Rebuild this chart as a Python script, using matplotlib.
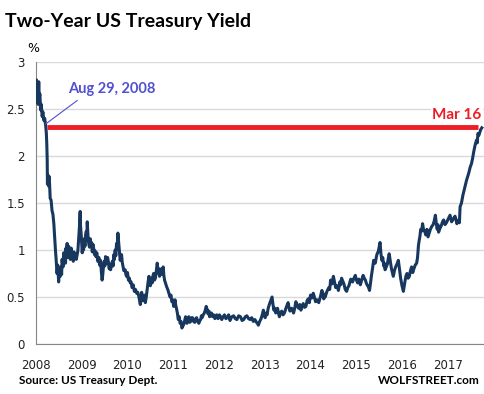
#!/usr/bin/env python3
"""Two-year US Treasury yield, redrawn from the wolfstreet chart."""

import matplotlib
matplotlib.use('Agg')
import matplotlib.pyplot as plt

# Yield path: x in "label years" (2008 = left edge), y in %.
years = [
    2008.00, 2008.01, 2008.02, 2008.03, 2008.045, 2008.06, 2008.07, 2008.085, 2008.10, 2008.115,
    2008.135, 2008.15, 2008.17, 2008.19, 2008.21, 2008.225, 2008.235, 2008.245, 2008.25, 2008.26,
    2008.275, 2008.29, 2008.31, 2008.33, 2008.35, 2008.37, 2008.39, 2008.41, 2008.425, 2008.44,
    2008.46, 2008.475, 2008.495, 2008.51, 2008.53, 2008.545, 2008.56, 2008.57, 2008.59, 2008.605,
    2008.62, 2008.63, 2008.645, 2008.655, 2008.67, 2008.68, 2008.70, 2008.715, 2008.725, 2008.74,
    2008.75, 2008.77, 2008.785, 2008.80, 2008.815, 2008.83, 2008.845, 2008.86, 2008.88, 2008.90,
    2008.915, 2008.93, 2008.95, 2008.965, 2008.97, 2008.99, 2009.01, 2009.025, 2009.04, 2009.055,
    2009.07, 2009.085, 2009.10, 2009.11, 2009.12, 2009.14, 2009.155, 2009.17, 2009.185, 2009.20,
    2009.215, 2009.23, 2009.245, 2009.26, 2009.28, 2009.295, 2009.31, 2009.33, 2009.35, 2009.375,
    2009.39, 2009.41, 2009.43, 2009.445, 2009.46, 2009.47, 2009.49, 2009.505, 2009.52, 2009.535,
    2009.55, 2009.565, 2009.58, 2009.60, 2009.615, 2009.63, 2009.65, 2009.67, 2009.685, 2009.70,
    2009.715, 2009.73, 2009.745, 2009.76, 2009.775, 2009.79, 2009.80, 2009.81, 2009.825, 2009.84,
    2009.855, 2009.87, 2009.885, 2009.90, 2009.92, 2009.95, 2009.965, 2009.98, 2010.00, 2010.02,
    2010.04, 2010.06, 2010.08, 2010.10, 2010.125, 2010.15, 2010.175, 2010.20, 2010.225, 2010.25,
    2010.265, 2010.28, 2010.295, 2010.31, 2010.33, 2010.35, 2010.37, 2010.39, 2010.41, 2010.43,
    2010.45, 2010.47, 2010.485, 2010.50, 2010.52, 2010.54, 2010.555, 2010.57, 2010.59, 2010.61,
    2010.63, 2010.65, 2010.665, 2010.68, 2010.69, 2010.70, 2010.72, 2010.74, 2010.76, 2010.78,
    2010.795, 2010.81, 2010.83, 2010.855, 2010.88, 2010.905, 2010.93, 2010.95, 2010.97, 2010.99,
    2011.01, 2011.025, 2011.04, 2011.055, 2011.07, 2011.09, 2011.11, 2011.13, 2011.15, 2011.17,
    2011.19, 2011.21, 2011.23, 2011.25, 2011.27, 2011.285, 2011.30, 2011.32, 2011.34, 2011.36,
    2011.38, 2011.40, 2011.42, 2011.445, 2011.47, 2011.49, 2011.51, 2011.535, 2011.56, 2011.58,
    2011.60, 2011.615, 2011.63, 2011.655, 2011.68, 2011.70, 2011.72, 2011.74, 2011.76, 2011.78,
    2011.795, 2011.81, 2011.835, 2011.86, 2011.885, 2011.91, 2011.93, 2011.95, 2011.98, 2012.01,
    2012.035, 2012.06, 2012.09, 2012.12, 2012.15, 2012.18, 2012.21, 2012.24, 2012.28, 2012.32,
    2012.355, 2012.39, 2012.43, 2012.47, 2012.505, 2012.54, 2012.575, 2012.61, 2012.645, 2012.68,
    2012.715, 2012.75, 2012.785, 2012.82, 2012.84, 2012.86, 2012.89, 2012.92, 2012.945, 2012.97,
    2012.99, 2013.01, 2013.03, 2013.05, 2013.075, 2013.10, 2013.13, 2013.16, 2013.18, 2013.20,
    2013.22, 2013.24, 2013.26, 2013.28, 2013.30, 2013.32, 2013.345, 2013.37, 2013.40, 2013.43,
    2013.47, 2013.51, 2013.53, 2013.55, 2013.59, 2013.63, 2013.655, 2013.68, 2013.71, 2013.74,
    2013.765, 2013.79, 2013.815, 2013.84, 2013.87, 2013.90, 2013.925, 2013.95, 2013.975, 2014.00,
    2014.03, 2014.06, 2014.085, 2014.11, 2014.145, 2014.18, 2014.215, 2014.25, 2014.27, 2014.29,
    2014.305, 2014.32, 2014.36, 2014.40, 2014.42, 2014.44, 2014.47, 2014.50, 2014.525, 2014.55,
    2014.58, 2014.61, 2014.625, 2014.64, 2014.66, 2014.68, 2014.705, 2014.73, 2014.76, 2014.79,
    2014.815, 2014.84, 2014.88, 2014.92, 2014.95, 2014.98, 2015.005, 2015.03, 2015.06, 2015.09,
    2015.12, 2015.15, 2015.175, 2015.20, 2015.225, 2015.25, 2015.27, 2015.29, 2015.31, 2015.33,
    2015.355, 2015.38, 2015.415, 2015.45, 2015.485, 2015.52, 2015.54, 2015.56, 2015.58, 2015.60,
    2015.615, 2015.63, 2015.655, 2015.68, 2015.70, 2015.72, 2015.745, 2015.77, 2015.79, 2015.81,
    2015.835, 2015.86, 2015.89, 2015.92, 2015.945, 2015.97, 2016.00, 2016.03, 2016.05, 2016.07,
    2016.09, 2016.11, 2016.135, 2016.16, 2016.185, 2016.21, 2016.235, 2016.26, 2016.29, 2016.32,
    2016.34, 2016.36, 2016.375, 2016.39, 2016.41, 2016.43, 2016.45, 2016.47, 2016.495, 2016.52,
    2016.545, 2016.57, 2016.595, 2016.62, 2016.65, 2016.68, 2016.705, 2016.73, 2016.75, 2016.77,
    2016.785, 2016.80, 2016.83, 2016.86, 2016.885, 2016.91, 2016.94, 2016.97, 2017.01, 2017.05,
    2017.085, 2017.12, 2017.16, 2017.20, 2017.22, 2017.24, 2017.255, 2017.27, 2017.30, 2017.33,
    2017.37, 2017.41, 2017.435, 2017.46, 2017.49, 2017.52, 2017.545, 2017.57, 2017.60, 2017.63,
    2017.645, 2017.66, 2017.68, 2017.70, 2017.72, 2017.745,
]
yields = [
    2.72, 2.81, 2.60, 2.70, 2.55, 2.79, 2.62, 2.66, 2.49, 2.55,
    2.42, 2.47, 2.38, 2.40, 2.33, 2.25, 2.14, 1.96, 1.70, 1.80,
    1.68, 1.78, 1.55, 1.53, 1.42, 1.38, 1.28, 1.12, 1.00, 0.90,
    0.75, 0.84, 0.66, 0.80, 0.72, 0.82, 0.74, 0.90, 0.82, 0.97,
    0.88, 0.93, 0.86, 1.02, 0.95, 1.07, 0.92, 1.04, 0.96, 1.00,
    0.90, 1.02, 0.93, 0.96, 0.88, 0.98, 0.91, 0.96, 0.90, 0.95,
    0.99, 1.10, 1.25, 1.41, 1.28, 1.15, 0.97, 1.06, 1.00, 1.12,
    1.04, 1.16, 1.20, 1.10, 1.30, 1.12, 1.06, 1.03, 1.12, 1.04,
    1.08, 0.98, 1.06, 1.02, 0.95, 0.99, 0.93, 0.97, 0.88, 0.92,
    0.84, 0.89, 0.76, 0.68, 0.74, 0.80, 0.88, 0.83, 0.93, 0.87,
    0.86, 0.92, 0.88, 0.80, 0.85, 0.79, 0.84, 0.88, 0.83, 0.95,
    0.90, 1.00, 0.94, 1.07, 1.01, 1.18, 1.12, 1.05, 0.98, 0.89,
    0.93, 0.95, 0.87, 0.83, 0.78, 0.79, 0.74, 0.72, 0.76, 0.68,
    0.70, 0.65, 0.66, 0.60, 0.63, 0.56, 0.58, 0.54, 0.55, 0.50,
    0.46, 0.42, 0.50, 0.55, 0.46, 0.48, 0.52, 0.44, 0.50, 0.58,
    0.66, 0.72, 0.64, 0.62, 0.70, 0.65, 0.72, 0.75, 0.68, 0.70,
    0.78, 0.86, 0.78, 0.75, 0.80, 0.72, 0.76, 0.80, 0.74, 0.82,
    0.73, 0.68, 0.65, 0.61, 0.58, 0.54, 0.50, 0.52, 0.45, 0.47,
    0.40, 0.44, 0.47, 0.41, 0.38, 0.33, 0.26, 0.29, 0.22, 0.24,
    0.17, 0.19, 0.21, 0.25, 0.29, 0.24, 0.22, 0.27, 0.29, 0.23,
    0.24, 0.28, 0.28, 0.24, 0.23, 0.27, 0.28, 0.24, 0.22, 0.25,
    0.26, 0.30, 0.28, 0.31, 0.33, 0.36, 0.40, 0.37, 0.32, 0.35,
    0.29, 0.31, 0.33, 0.29, 0.31, 0.27, 0.28, 0.31, 0.27, 0.31,
    0.29, 0.26, 0.29, 0.31, 0.27, 0.28, 0.31, 0.25, 0.29, 0.30,
    0.27, 0.26, 0.30, 0.29, 0.25, 0.26, 0.29, 0.30, 0.27, 0.26,
    0.28, 0.24, 0.26, 0.23, 0.22, 0.20, 0.24, 0.27, 0.31, 0.36,
    0.30, 0.28, 0.33, 0.31, 0.38, 0.42, 0.46, 0.50, 0.42, 0.36,
    0.38, 0.33, 0.36, 0.38, 0.33, 0.29, 0.33, 0.35, 0.31, 0.33,
    0.39, 0.44, 0.39, 0.35, 0.38, 0.33, 0.38, 0.45, 0.41, 0.38,
    0.42, 0.36, 0.40, 0.43, 0.39, 0.40, 0.46, 0.48, 0.44, 0.52,
    0.49, 0.54, 0.50, 0.45, 0.47, 0.44, 0.50, 0.57, 0.52, 0.48,
    0.53, 0.50, 0.56, 0.60, 0.58, 0.68, 0.64, 0.72, 0.66, 0.60,
    0.62, 0.57, 0.61, 0.66, 0.63, 0.70, 0.67, 0.64, 0.58, 0.56,
    0.60, 0.62, 0.69, 0.66, 0.70, 0.73, 0.68, 0.65, 0.69, 0.63,
    0.68, 0.73, 0.70, 0.68, 0.64, 0.62, 0.60, 0.57, 0.64, 0.72,
    0.80, 0.89, 0.86, 0.95, 0.99, 1.08, 0.96, 0.89, 0.92, 0.83,
    0.86, 0.79, 0.82, 0.85, 0.91, 0.96, 0.88, 0.80, 0.76, 0.72,
    0.78, 0.82, 0.85, 0.89, 0.80, 0.70, 0.62, 0.56, 0.62, 0.68,
    0.73, 0.75, 0.70, 0.72, 0.78, 0.82, 0.76, 0.80, 0.84, 0.86,
    0.92, 1.05, 1.10, 1.14, 1.22, 1.20, 1.28, 1.22, 1.20, 1.16,
    1.22, 1.14, 1.18, 1.22, 1.25, 1.27, 1.31, 1.37, 1.28, 1.22,
    1.27, 1.19, 1.23, 1.26, 1.30, 1.32, 1.27, 1.29, 1.33, 1.37,
    1.30, 1.33, 1.36, 1.28, 1.31, 1.32, 1.29, 1.46, 1.50, 1.58,
    1.66, 1.74, 1.78, 1.82, 1.88, 1.92, 1.98, 2.05, 2.12, 2.17,
    2.14, 2.24, 2.22, 2.25, 2.28, 2.30,
]

year_labels = [str(y) for y in range(2008, 2018)]
ref_level = 2.31          # red reference line, Aug 29 2008 vs Mar 16
ref_span = (2008.23, 2017.66)

navy = '#17375e'
red = '#ee1c25'
blue = '#5050d2'

fig = plt.figure(figsize=(4.85, 3.94), dpi=100)
ax = fig.add_axes([36 / 485, 1 - 344 / 394, 1 - 36 / 485, (344 - 62) / 394])

ax.set_xlim(2008, 2008 + (485 - 35.5) / 45.8)
ax.set_ylim(0, 3)
ax.set_yticks([0, 0.5, 1, 1.5, 2, 2.5, 3])
ax.set_yticklabels(['0', '0.5', '1', '1.5', '2', '2.5', '3'])
ax.set_xticks(range(2008, 2018))
ax.set_xticklabels(year_labels)
ax.grid(axis='y', color='#d9d9d9', linewidth=1)
ax.set_axisbelow(True)
for side in ('top', 'right'):
    ax.spines[side].set_visible(False)
for side in ('left', 'bottom'):
    ax.spines[side].set_color('#868686')
ax.tick_params(axis='both', length=0, labelsize=8.5, labelcolor='#222222')
ax.tick_params(axis='y', pad=8)
ax.tick_params(axis='x', pad=11)

ax.plot(years, yields, color=navy, linewidth=2.2, zorder=3)
ax.hlines(ref_level, ref_span[0], ref_span[1], color=red, linewidth=3.5, zorder=4)

ax.plot([2008.21, 2008.9], [2.34, 2.59], color=blue, linewidth=0.8, zorder=5)
ax.text(2008.71, 2.64, 'Aug 29, 2008', color=blue, fontsize=10.5, fontweight='bold',
        family='Lato', ha='left', va='bottom')
ax.text(2017.74, 2.36, 'Mar 16', color=red, fontsize=11, fontweight='bold',
        family='Lato', ha='right', va='bottom',
        bbox=dict(facecolor='white', edgecolor='none', pad=1))

fig.text(5 / 485, 1 - 22 / 394, 'Two-Year US Treasury Yield', fontsize=14,
         fontweight='bold', family='Lato', ha='left', va='center')
fig.text(33 / 485, 1 - 48 / 394, '%', fontsize=9, ha='center', va='center')
fig.text(19 / 485, 1 - 381 / 394, 'Source: US Treasury Dept.', fontsize=8.5,
         fontweight='bold', family='Lato', ha='left', va='center')
fig.text(480 / 485, 1 - 381 / 394, 'WOLFSTREET.com', fontsize=8.5,
         fontweight='bold', family='Lato', ha='right', va='center')

fig.savefig('out.png', dpi=100)
